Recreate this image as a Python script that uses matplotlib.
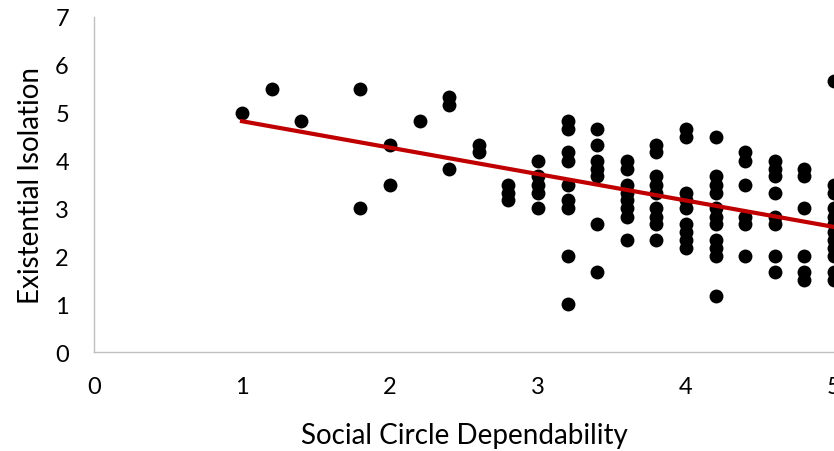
import numpy as np
import matplotlib
matplotlib.use('Agg')
import matplotlib.pyplot as plt

# values, one list per x column (x step 0.2, y step 1/6)
x_vals = [1.0, 1.2, 1.4, 1.8, 2.0, 2.2, 2.4, 2.6, 2.8, 3.0, 3.2, 3.4, 3.6, 3.8,
          4.0, 4.2, 4.4, 4.6, 4.8, 5.0]
y_cols = [
    [5.0],
    [5.5],
    [4.83],
    [5.5, 3.0],
    [4.33, 3.5],
    [4.83],
    [5.33, 5.17, 3.83],
    [4.33, 4.17],
    [3.5, 3.33, 3.17],
    [4.0, 3.67, 3.5, 3.33, 3.0],
    [4.83, 4.67, 4.17, 4.0, 3.5, 3.17, 3.0, 2.0, 1.0],
    [4.67, 4.33, 4.0, 3.83, 3.67, 2.67, 1.67],
    [4.0, 3.83, 3.5, 3.33, 3.17, 3.0, 2.83, 2.33],
    [4.33, 4.17, 3.67, 3.5, 3.33, 3.0, 2.83, 2.67, 2.33],
    [4.67, 4.5, 3.33, 3.17, 3.0, 2.67, 2.5, 2.33, 2.17],
    [4.5, 3.67, 3.5, 3.33, 3.0, 2.83, 2.67, 2.33, 2.17, 2.0, 1.17],
    [4.17, 4.0, 3.5, 2.83, 2.67, 2.0],
    [4.0, 3.83, 3.67, 3.33, 2.83, 2.67, 2.0, 1.67],
    [3.83, 3.67, 3.0, 2.0, 1.67, 1.5],
    [5.67, 3.5, 3.33, 3.0, 2.83, 2.67, 2.5, 2.33, 2.17, 2.0, 1.67, 1.5],
]
x_ticks = [0, 1, 2, 3, 4, 5]
y_ticks = [0, 1, 2, 3, 4, 5, 6, 7]

x = np.concatenate([[xv] * len(col) for xv, col in zip(x_vals, y_cols)])
y = np.concatenate(y_cols)

plt.rcParams['font.family'] = ['Lato', 'DejaVu Sans']

fig = plt.figure(figsize=(8.34, 4.52), dpi=100)
ax = fig.add_axes([94 / 834, 1 - 353 / 452, 1 - 94 / 834, 335 / 452])

ax.scatter(x, y, s=100, color='black', zorder=3, clip_on=False, linewidths=0)

# linear trendline over the data range
slope, intercept = np.polyfit(x, y, 1)
xt = np.array([x.min(), x.max()])
ax.plot(xt, slope * xt + intercept, color='#C00000', lw=3, zorder=4, clip_on=False)

ax.set_xlim(0, 5)
ax.set_ylim(0, 7)
ax.set_xticks(x_ticks)
ax.set_yticks(y_ticks)
ax.tick_params(length=0, labelsize=17, colors='black')
ax.tick_params(axis='x', pad=17)
ax.tick_params(axis='y', pad=18)

for s in ['top', 'right']:
    ax.spines[s].set_visible(False)
for s in ['left', 'bottom']:
    ax.spines[s].set_color('#BFBFBF')
    ax.spines[s].set_linewidth(1)

ax.set_xlabel('Social Circle Dependability', fontsize=20, labelpad=18)
ax.set_ylabel('Existential Isolation', fontsize=20, labelpad=8)

fig.savefig('out.png', dpi=100)
